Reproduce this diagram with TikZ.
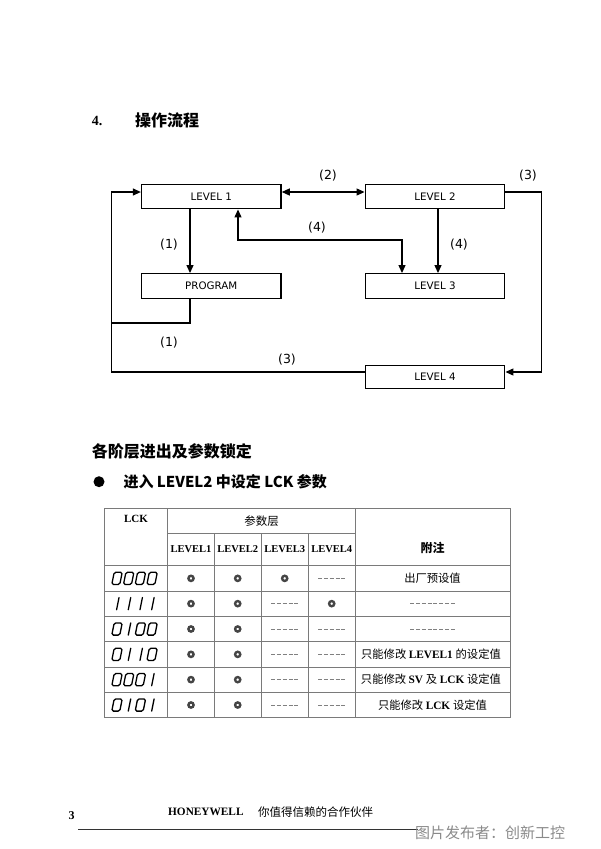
\documentclass[tikz,border=0pt]{standalone}
\usepackage{fontspec}
\setmainfont{Liberation Serif}
\newfontfamily\cjk{Noto Sans CJK SC}
\newfontfamily\vsans{DejaVu Sans}
\usetikzlibrary{arrows.meta,calc}
\definecolor{tl}{HTML}{7A7A7A}
\definecolor{ringc}{HTML}{454545}
\definecolor{wm}{HTML}{8A8A8A}
\newcommand\segZ[2]{\draw[dig,shift={(#1,#2)},xslant=0.2] (-4,-6.1) rectangle (4,6.1);}
\newcommand\segO[2]{\draw[dig,shift={(#1,#2)},xslant=0.2] (0.8,-6.1) -- (0.8,6.1);}
\newcommand\ring[2]{\draw[ringst] (#1,#2) circle (2.6);}
\newcommand\dsh[3]{\draw[dshst] ({#1-#3},#2) -- ({#1+#3},#2);}
\tikzset{
  box/.style={draw, line width=1.4pt, minimum width=139.5pt, minimum height=24.5pt, inner sep=0pt, font=\vsans\fontsize{10.3}{12}\selectfont},
  flow/.style={line width=1.2pt},
  lbl/.style={inner sep=0pt, font=\vsans\fontsize{12.5}{14}\selectfont},
  grid/.style={draw=tl, line width=0.8pt},
  dig/.style={line width=1.3pt, rounded corners=1.6pt, line cap=round},
  ringst/.style={draw=ringc, line width=2.4pt},
  dshst/.style={draw=gray, line width=0.7pt, dash pattern=on 4pt off 1.8pt},
  hdr/.style={inner sep=0pt, font=\bfseries\fontsize{10.5}{12}\selectfont},
  note/.style={inner sep=0pt, font=\fontsize{11.3}{13}\selectfont},
}
\begin{document}
\begin{tikzpicture}[x=1pt,y=-1pt,>={Triangle[length=8pt,width=7pt]}]
\useasboundingbox (0,0) rectangle (600,849);

% title
\node[anchor=west, inner sep=0pt, font=\bfseries\fontsize{14}{16}\selectfont] (t4) at (91.7,120.7) {4.};
\node[anchor=west, inner sep=0pt, font=\cjk\bfseries\fontsize{16}{18}\selectfont] (tt) at (135,120.7) {操作流程};

% flowchart boxes
\node[box] (L1) at (211.3,196.5) {LEVEL 1};
\node[box] (L2) at (435,196.5) {LEVEL 2};
\node[box] (PR) at (211.3,286) {PROGRAM};
\node[box] (L3) at (435,286) {LEVEL 3};
\node[box, minimum height=23pt] (L4) at (435,377.2) {LEVEL 4};

\coordinate (k4) at (402,240);
\coordinate (j1) at (111.7,323);
\coordinate (lp) at (111.7,192);
\coordinate (rp) at (541.7,192);

\draw[flow,<->] ([yshift=4.5pt]L1.east) -- ([yshift=4.5pt]L2.west);
\draw[flow,->] ([xshift=-21.3pt]L1.south) -- ([xshift=-21.3pt]PR.north);
\draw[flow,->] ([xshift=3pt]L2.south) -- ([xshift=3pt]L3.north);
\draw[flow,<->] ([xshift=26.7pt]L1.south) |- (k4) -- ([xshift=-33pt]L3.north);
\draw[flow] ([xshift=-21.3pt]PR.south) |- (j1);
\draw[flow,->] ([yshift=5.2pt]L4.west) -| (lp) -- ([yshift=4.5pt]L1.west);
\draw[flow,->] ([yshift=4.5pt]L2.east) -- (rp) |- ([yshift=5.2pt]L4.east);

\node[lbl] (a2) at (328,176) {(2)};
\node[lbl] (a3) at (528,176) {(3)};
\node[lbl] (a1) at (169,245) {(1)};
\node[lbl] (a4) at (317,228) {(4)};
\node[lbl] (a4b) at (459,245) {(4)};
\node[lbl] (a1b) at (169,343) {(1)};
\node[lbl] (a3b) at (287,360) {(3)};

% section heading
\node[anchor=west, inner sep=0pt, font=\cjk\bfseries\fontsize{16}{18}\selectfont] (sh) at (91.7,451.7) {各阶层进出及参数锁定};
\fill (99,481.7) circle (5.5);
\node[anchor=west, inner sep=0pt, font=\cjk\bfseries\fontsize{15}{17}\selectfont] (bl) at (123.3,481.7) {进入 LEVEL2 中设定 LCK 参数};

% table grid
\draw[grid] (104.3,508.3) rectangle (510,717.7);
\draw[grid] (167.7,533.3) -- (355,533.3);
\draw[grid] (104.3,565.7) -- (510,565.7);
\foreach \yy in {591,616.3,641.7,667,692.3} \draw[grid] (104.3,\yy) -- (510,\yy);
\draw[grid] (167.7,508.3) -- (167.7,717.7);
\draw[grid] (355,508.3) -- (355,717.7);
\foreach \xx in {214.3,261,308.3} \draw[grid] (\xx,533.3) -- (\xx,717.7);

% header
\node[inner sep=0pt, font=\bfseries\fontsize{11}{13}\selectfont] (hl) at (136,519) {LCK};
\node[inner sep=0pt, font=\cjk\fontsize{11.5}{13}\selectfont] (hp) at (261.5,521) {参数层};
\node[inner sep=0pt, font=\cjk\bfseries\fontsize{12}{14}\selectfont] (hn) at (432.5,548) {附注};
\node[hdr] (h1) at (191,549.5) {LEVEL1};
\node[hdr] (h2) at (237.7,549.5) {LEVEL2};
\node[hdr] (h3) at (284.7,549.5) {LEVEL3};
\node[hdr] (h4) at (331.7,549.5) {LEVEL4};

% LCK codes
\foreach \yy/\code in {578.35/{0,0,0,0}, 603.65/{1,1,1,1}, 629/{0,1,0,0}, 654.35/{0,1,1,0}, 679.65/{0,0,0,1}, 705/{0,1,0,1}}{
  \foreach \d [count=\i] in \code {
    \pgfmathsetmacro\xx{117+(\i-1)*11.7}
    \ifnum\d=0 \segZ{\xx}{\yy}\else\segO{\xx}{\yy}\fi
  }
}

% row 1
\ring{191}{578.35}\ring{237.7}{578.35}\ring{284.7}{578.35}\dsh{331.7}{578.35}{13.6}
% row 2
\ring{191}{603.65}\ring{237.7}{603.65}\dsh{284.7}{603.65}{13.6}\ring{331.7}{603.65}
% rows 3-6
\foreach \yy in {629,654.35,679.65,705}{
  \ring{191}{\yy}\ring{237.7}{\yy}\dsh{284.7}{\yy}{13.6}\dsh{331.7}{\yy}{13.6}
}
\dsh{432.5}{603.65}{22.3}
\dsh{432.5}{629}{22.3}

% notes
\node[note] (n1) at (432.5,578.35) {\cjk 出厂预设值};
\node[note] (n4) at (431,654.35) {\cjk 只能修改 \rmfamily\bfseries LEVEL1 \cjk\mdseries 的设定值};
\node[note] (n5) at (431,679.65) {\cjk 只能修改 \rmfamily\bfseries SV \cjk\mdseries 及 \rmfamily\bfseries LCK \cjk\mdseries 设定值};
\node[note] (n6) at (432.5,705) {\cjk 只能修改 \rmfamily\bfseries LCK \cjk\mdseries 设定值};

% footer
\node[anchor=west, inner sep=0pt, font=\bfseries\fontsize{12}{14}\selectfont] (pg) at (68.5,815.7) {3};
\node[anchor=west, inner sep=0pt, font=\bfseries\fontsize{11.3}{13}\selectfont] (hw) at (168,811.7) {HONEYWELL};
\node[anchor=west, inner sep=0pt, font=\cjk\fontsize{11.5}{13}\selectfont] (slog) at (258,811.7) {你值得信赖的合作伙伴};
\coordinate (fl0) at (78,829.3);
\coordinate (fl1) at (418,829.3);
\draw[line width=1.1pt, color=black!80] (fl0) -- (fl1);
\node[anchor=west, inner sep=0pt, text=wm, font=\cjk\fontsize{15}{17}\selectfont] (wmk) at (415,832.7) {图片发布者：创新工控};
\end{tikzpicture}
\end{document}
